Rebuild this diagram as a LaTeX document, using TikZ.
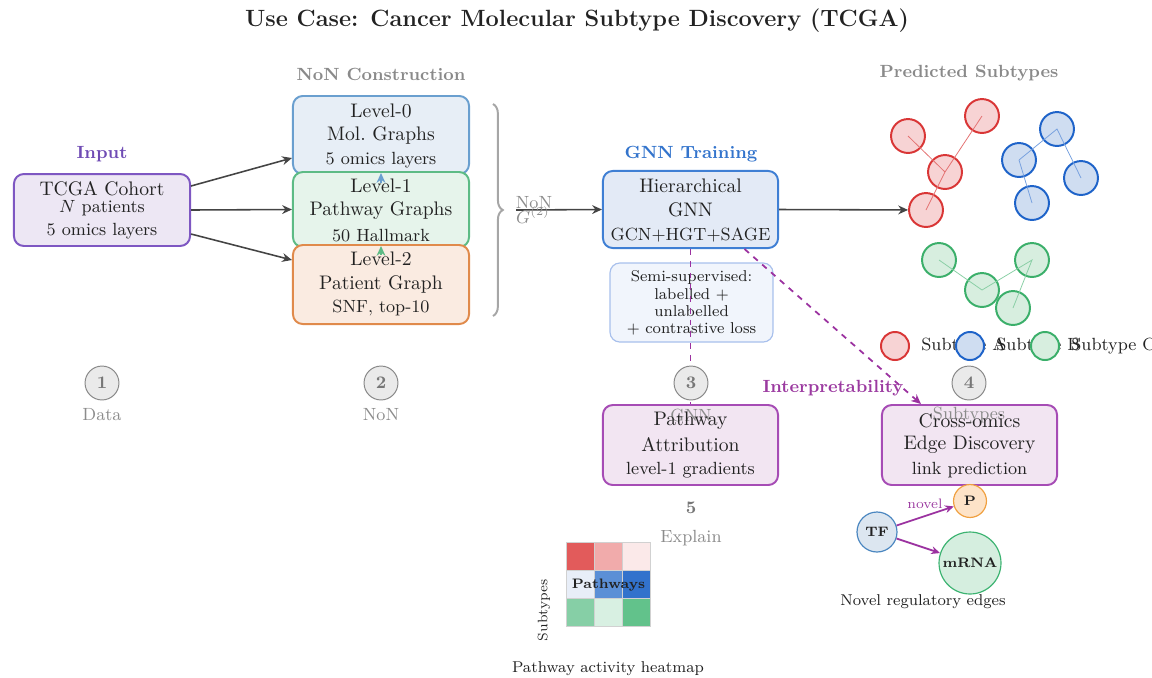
\documentclass[tikz,border=0pt]{standalone}
\usetikzlibrary{arrows.meta,decorations.pathreplacing,calc}
\definecolor{txt}{HTML}{222222}
\definecolor{arrgray}{HTML}{444444}
\definecolor{numgray}{HTML}{888888}
\definecolor{numfill}{HTML}{EAEAEA}
\definecolor{numtxt}{HTML}{777777}
\definecolor{captxt}{HTML}{8C8C8C}
\definecolor{secgray}{HTML}{8A8A8A}
\definecolor{inpurple}{HTML}{6F4BB4}
\definecolor{gnnblue}{HTML}{3374CC}
\definecolor{intpurple}{HTML}{9B3AA0}
\definecolor{cohB}{HTML}{7E57C2}\definecolor{cohF}{HTML}{EDE7F4}
\definecolor{l0B}{HTML}{6A9FCF}\definecolor{l0F}{HTML}{E7EEF6}
\definecolor{l1B}{HTML}{5DBB85}\definecolor{l1F}{HTML}{E6F4EB}
\definecolor{l2B}{HTML}{E08A4B}\definecolor{l2F}{HTML}{FAEBE1}
\definecolor{gnnB}{HTML}{3F7FD4}\definecolor{gnnF}{HTML}{E3EAF6}
\definecolor{semiB}{HTML}{A8C0EC}\definecolor{semiF}{HTML}{F1F5FC}
\definecolor{purB}{HTML}{A64CB5}\definecolor{purF}{HTML}{F2E5F2}
\definecolor{dashp}{HTML}{9B32A0}
\definecolor{redB}{HTML}{D93636}\definecolor{redF}{HTML}{F7D3D4}
\definecolor{bluB}{HTML}{1E63C9}\definecolor{bluF}{HTML}{CFDDF1}
\definecolor{grnB}{HTML}{3BAF6A}\definecolor{grnF}{HTML}{D7EEDF}
\definecolor{tfB}{HTML}{4A86C0}\definecolor{tfF}{HTML}{DCE6F0}
\definecolor{pB}{HTML}{F0A040}\definecolor{pF}{HTML}{FDE3C8}
\definecolor{mB}{HTML}{3CB371}\definecolor{mF}{HTML}{D5EEDF}
\definecolor{hA}{HTML}{E25B5B}\definecolor{hB}{HTML}{F1ABAB}\definecolor{hC}{HTML}{FBE9E9}
\definecolor{hD}{HTML}{E8EEF8}\definecolor{hE}{HTML}{5B8FD6}\definecolor{hF}{HTML}{3272CC}
\definecolor{hG}{HTML}{86CFA6}\definecolor{hH}{HTML}{D8F0E2}\definecolor{hI}{HTML}{62C28B}
\begin{document}
\begin{tikzpicture}[x=0.51pt,y=-0.51pt,
  every node/.style={inner sep=0pt, text=txt},
  box/.style={draw, rounded corners=5pt, line width=1pt},
  arr/.style={draw=arrgray, line width=0.8pt, -{Stealth[length=5pt,width=4.5pt]}},
  sec/.style={font=\small\bfseries},
  lbl/.style={font=\small},
  mainlbl/.style={font=\normalsize},
  num/.style={circle, draw=numgray, fill=numfill, line width=0.5pt, minimum size=17.3pt, font=\small\bfseries, text=numtxt},
  capt/.style={font=\small, text=captxt},
  sub/.style={circle, line width=1pt, minimum size=17.3pt},
  leg/.style={circle, line width=1pt, minimum size=14.3pt},
  cell/.style={draw=black!18, line width=0.5pt, minimum size=13.8pt},
  tinyb/.style={font=\scriptsize\bfseries},
]
\useasboundingbox (0,0) rectangle (1152,677);

% title
\node[font=\large\bfseries] (title) at (577,21) {Use Case: Cancer Molecular Subtype Discovery (TCGA)};

% section labels
\node[sec, text=inpurple] (sInput) at (102,154) {Input};
\node[sec, text=secgray] (sNoN) at (381,74) {NoN Construction};
\node[sec, text=gnnblue] (sGNN) at (691,154) {GNN Training};
\node[sec, text=secgray] (sPred) at (969,73) {Predicted Subtypes};

% cohort
\node[box, draw=cohB, fill=cohF, minimum width=89.8pt, minimum height=36.7pt] (coh) at (102,210) {};
\node[mainlbl] (cohT) at (102,189) {TCGA Cohort};
\node[lbl] (cohA) at (102,208) {$N$ patients};
\node[lbl] (cohB) at (102,231) {5 omics layers};

% levels
\node[box, draw=l0B, fill=l0F, minimum width=89.8pt, minimum height=39.8pt] (L0) at (381,135) {};
\node[box, draw=l1B, fill=l1F, minimum width=89.8pt, minimum height=38.25pt] (L1) at (381,209.5) {};
\node[box, draw=l2B, fill=l2F, minimum width=89.8pt, minimum height=40.3pt] (L2) at (381,284.5) {};
\node[mainlbl] (L0a) at (381,111) {Level-0};
\node[mainlbl] (L0b) at (381,135) {Mol.\ Graphs};
\node[lbl] (L0c) at (381,160) {5 omics layers};
\node[mainlbl] (L1a) at (381,186) {Level-1};
\node[mainlbl] (L1b) at (381,211) {Pathway Graphs};
\node[lbl] (L1c) at (381,236) {50 Hallmark};
\node[mainlbl] (L2a) at (381,259) {Level-2};
\node[mainlbl] (L2b) at (381,284) {Patient Graph};
\node[lbl] (L2c) at (381,308) {SNF, top-10};
\draw[draw=l0B, line width=0.8pt, -{Stealth[length=5pt,width=4.5pt]}] ($(L0.south)+(0,8)$) -- ($(L0.south)+(0,-2)$);
\draw[draw=l1B, line width=0.8pt, -{Stealth[length=5pt,width=4.5pt]}] ($(L1.south)+(0,7)$) -- ($(L1.south)+(0,-2)$);

% cohort arrows
\draw[arr] ($(coh.east)+(0,-24)$) -- ($(L0.west)+(0,23)$);
\draw[arr] (coh.east) -- (L1.west);
\draw[arr] ($(coh.east)+(0,24)$) -- ($(L2.west)+(0,-24.5)$);

% brace
\coordinate (brT) at (493,104);
\coordinate (brB) at (493,316);
\draw[draw=black!35, line width=1pt, decorate, decoration={brace, amplitude=5pt}] (brT) -- (brB);
\coordinate (nonS) at (516,210);

% GNN
\node[box, draw=gnnB, fill=gnnF, minimum width=89.3pt, minimum height=39.3pt] (gnn) at (690.5,209.5) {};
\node[mainlbl] (gnnA) at (690.5,186) {Hierarchical};
\node[mainlbl] (gnnB2) at (690.5,210) {GNN};
\node[lbl] (gnnC) at (690.5,235) {GCN+HGT+SAGE};
\draw[arr] (nonS) -- (gnn.west);
\node[font=\small, text=captxt] (nonL1) at (534,203) {NoN};
\node[font=\small, text=captxt] (nonL2) at (533,215) {$G^{(2)}$};

% semi box
\node[box, draw=semiB, fill=semiF, line width=0.6pt, minimum width=83.1pt, minimum height=40.3pt] (semi) at (691.5,302.5) {};
\node[font=\footnotesize] (semiA) at (691.5,277) {Semi-supervised:};
\node[font=\footnotesize] (semiB) at (691.5,294.5) {labelled +};
\node[font=\footnotesize] (semiC) at (691.5,311.5) {unlabelled};
\node[font=\footnotesize] (semiD) at (691.5,329) {+ contrastive loss};

% subtype clusters
\node[sub, draw=redB, fill=redF] (r1) at (908,136) {};
\node[sub, draw=redB, fill=redF] (r2) at (982,116) {};
\node[sub, draw=redB, fill=redF] (r3) at (945,172) {};
\node[sub, draw=redB, fill=redF] (r4) at (926,210) {};
\draw[redB!70, line width=0.4pt] (r1.center) -- (r3.center);
\draw[redB!70, line width=0.4pt] (r2.center) -- (r3.center) -- (r4.center);
\node[sub, draw=bluB, fill=bluF] (b1) at (1057,129) {};
\node[sub, draw=bluB, fill=bluF] (b2) at (1019,160) {};
\node[sub, draw=bluB, fill=bluF] (b3) at (1081,178) {};
\node[sub, draw=bluB, fill=bluF] (b4) at (1032,203) {};
\draw[bluB!60, line width=0.4pt] (b2.center) -- (b1.center) -- (b3.center);
\draw[bluB!60, line width=0.4pt] (b2.center) -- (b4.center);
\node[sub, draw=grnB, fill=grnF] (g1) at (939,260) {};
\node[sub, draw=grnB, fill=grnF] (g2) at (982,290) {};
\node[sub, draw=grnB, fill=grnF] (g3) at (1032,260) {};
\node[sub, draw=grnB, fill=grnF] (g4) at (1013,308) {};
\draw[grnB!60, line width=0.4pt] (g1.center) -- (g2.center) -- (g3.center) -- (g4.center);

\draw[arr] (gnn.east) -- (r4);

% legend
\node[lbl, anchor=west] (legA) at (921,346) {Subtype A};
\node[lbl, anchor=west] (legB) at (996,346) {Subtype B};
\node[lbl, anchor=west] (legC) at (1071,346) {Subtype C};
\node[leg, draw=redB, fill=redF] (lc1) at (895,346) {};
\node[leg, draw=bluB, fill=bluF] (lc2) at (970,346) {};
\node[leg, draw=grnB, fill=grnF] (lc3) at (1045,346) {};

% interpretability boxes
\node[box, draw=purB, fill=purF, minimum width=89.3pt, minimum height=40.8pt] (pa) at (690.5,445) {};
\node[box, draw=purB, fill=purF, minimum width=89.3pt, minimum height=40.8pt] (co) at (969.5,445) {};

% dashed links
\draw[dashp, line width=0.9pt, dashed] (gnn.south) -- (pa.north);
\draw[dashp, line width=0.9pt, dashed, -{Stealth[length=5pt,width=4.5pt]}] ($(gnn.south)+(54,0)$) -- ($(co.north west)+(40,0)$);

% step circles
\node[num] (n1) at (102,383) {1};
\node[num] (n2) at (381,383) {2};
\node[num] (n3) at (691,383) {3};
\node[num] (n4) at (969,383) {4};
\node[font=\small\bfseries, text=numtxt] (n5) at (691,508) {5};
\node[capt] (c1) at (102,415) {Data};
\node[capt] (c2) at (381,415) {NoN};
\node[capt] (c3) at (691,415) {GNN};
\node[capt] (c4) at (969,415) {Subtypes};
\node[capt] (c5) at (691,538) {Explain};

\node[mainlbl] (paA) at (690.5,421) {Pathway};
\node[mainlbl] (paB) at (690.5,445) {Attribution};
\node[lbl] (paC) at (690.5,470) {level-1 gradients};
\node[mainlbl] (coA) at (969.5,421) {Cross-omics};
\node[mainlbl] (coB) at (969.5,445) {Edge Discovery};
\node[lbl] (coC) at (969.5,470) {link prediction};

\node[sec, text=intpurple] (interp) at (833,388) {Interpretability};

% regulatory edges
\node[circle, draw=tfB, fill=tfF, line width=0.6pt, minimum size=20.4pt, tinyb] (tf) at (877,532) {TF};
\node[circle, draw=pB, fill=pF, line width=0.6pt, minimum size=16.8pt, tinyb] (pp) at (970,501) {P};
\node[circle, draw=mB, fill=mF, line width=0.6pt, minimum size=31.6pt, tinyb] (mr) at (970,563) {mRNA};
\draw[draw=dashp, line width=0.9pt, -{Stealth[length=4.5pt,width=4pt]}] (tf) -- (pp);
\draw[draw=dashp, line width=0.9pt, -{Stealth[length=4.5pt,width=4pt]}] (tf) -- (mr);
\node[font=\scriptsize, text=intpurple] (novel) at (925,504) {novel};
\node[font=\footnotesize] (novcap) at (923,602) {Novel regulatory edges};

% heatmap
\node[cell, fill=hA] (h11) at (580.5,556.5) {};
\node[cell, fill=hB] (h12) at (608.5,556.5) {};
\node[cell, fill=hC] (h13) at (636.5,556.5) {};
\node[cell, fill=hD] (h21) at (580.5,584.5) {};
\node[cell, fill=hE] (h22) at (608.5,584.5) {};
\node[cell, fill=hF] (h23) at (636.5,584.5) {};
\node[cell, fill=hG] (h31) at (580.5,612.5) {};
\node[cell, fill=hH] (h32) at (608.5,612.5) {};
\node[cell, fill=hI] (h33) at (636.5,612.5) {};
\node[tinyb] (hpath) at (608.5,585) {Pathways};
\node[font=\scriptsize, rotate=90] (hsub) at (544,610) {Subtypes};
\node[font=\footnotesize] (hcap) at (608,669) {Pathway activity heatmap};
\end{tikzpicture}
\end{document}
